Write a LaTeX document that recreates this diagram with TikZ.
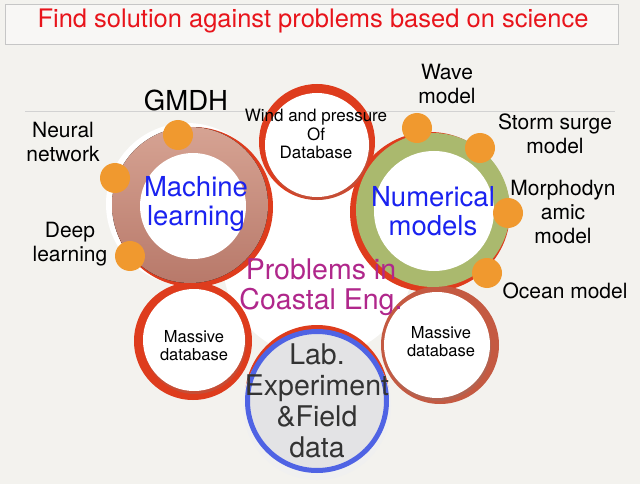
\documentclass[tikz,border=0pt]{standalone}
\usepackage{fontspec}
\setmainfont{TeX Gyre Heros}
\usetikzlibrary{shadows}

\definecolor{paper}{HTML}{F3F2EE}
\definecolor{titlered}{HTML}{E8141B}
\definecolor{ringred}{HTML}{DE3C1D}
\definecolor{ringbrown}{HTML}{C45A42}
\definecolor{mltop}{HTML}{D6A393}
\definecolor{mlbot}{HTML}{B8796A}
\definecolor{numgreen}{HTML}{AAB96E}
\definecolor{dotorange}{HTML}{F0992F}
\definecolor{labblue}{HTML}{4F63E4}
\definecolor{labgray}{HTML}{E3E3E5}
\definecolor{textblue}{HTML}{1A22F0}
\definecolor{probpink}{HTML}{B0278B}

\tikzset{
  lbl/.style={align=center, text=black, font=\fontsize{21}{24}\selectfont},
  small/.style={align=center, text=black, font=\fontsize{16.5}{18}\selectfont},
  big/.style={align=center, text=textblue, font=\fontsize{27.5}{29}\selectfont},
  whitedisk/.style={fill=white, drop shadow={opacity=0.25, shadow xshift=1pt, shadow yshift=-3pt}},
  orange dot/.style={fill=dotorange}
}

\begin{document}
\begin{tikzpicture}[x=1pt,y=-1pt]
			\fill[paper] (0,0) rectangle (640,484);
			\useasboundingbox (0,0) rectangle (640,484);
			%%%%%%%%%%%%%%%%%%%%%%%%%%%%%%%% title
			\draw[gray!45, fill=paper!60!white] (5,4) rectangle (618,44);
			\node[text=titlered, font=\fontsize{25.5}{29}\selectfont] (title) at (313,21) {Find solution against problems based on science};
			\draw[gray!35] (25,111)--(615,111);
			%%%%%%%%%%%%%%%%%%%%%%%%%%%%%%%% centre
			\fill[white] (318,262) circle (95);
			\fill[white] (187,204) circle (81);
			%%%%%%%%%%%%%%%%%%%%%%%%%%%%%%%% red outline
			\fill[ringred] (317,142) circle (58);
			\fill[ringred] (193,207) circle (80);
			\fill[ringred] (430,212) circle (80);
			\fill[ringred] (193,341) circle (59);
			\fill[ringbrown] (440,345) circle (59);
			%%%%%%%%%%%%%%%%%%%%%%%%%%%%%%%% machine learning ring
			\fill[top color=mltop, bottom color=mlbot] (190,205) circle (78);
			\fill[white] (193,206) circle (53);
			%%%%%%%%%%%%%%%%%%%%%%%%%%%%%%%% numerical ring
			\fill[numgreen] (433,210) circle (77);
			\fill[white] (434,211) circle (60);
			%%%%%%%%%%%%%%%%%%%%%%%%%%%%%%%% white circles
			\fill[whitedisk] (317,145) circle (52);
			\fill[whitedisk] (194,340) circle (51);
			\fill[whitedisk] (437,345) circle (53);
			%%%%%%%%%%%%%%%%%%%%%%%%%%%%%%%% lab circle
			\fill[ringred] (317,397) circle (72);
			\fill[gray!12] (317,406) circle (74);
			\draw[labblue, line width=5pt, fill=labgray] (317,401) circle (69.5);
			%%%%%%%%%%%%%%%%%%%%%%%%%%%%%%%% orange dots
			\fill[orange dot] (178,135) circle (15);
			\fill[orange dot] (115,178) circle (15);
			\fill[orange dot] (130,256) circle (15);
			\fill[orange dot] (417,128) circle (15);
			\fill[orange dot] (480,148) circle (15);
			\fill[orange dot] (508,213) circle (15);
			\fill[orange dot] (487,273) circle (15);
			%%%%%%%%%%%%%%%%%%%%%%%%%%%%%%%% texts
			\node[big] (ml) at (196,204) {Machine\\learning};
			\node[big] (num) at (433,211) {Numerical\\models};
			\node[small, font=\fontsize{17}{18.5}\selectfont] (wind) at (316,134) {Wind and pressure\\Of\\Database};
			\node[small] (dbleft) at (194,346) {Massive\\database};
			\node[small] (dbright) at (441,342) {Massive\\database};
			\node[align=center, text=black!80, font=\fontsize{28.5}{31}\selectfont] (lab) at (317,401) {Lab.\\Experiment\\\&Field\\data};
			\node[align=center, text=probpink, font=\fontsize{28.5}{30}\selectfont] (prob) at (321,287) {Problems in\\Coastal Eng.};
			\node[text=black, font=\fontsize{27.5}{29}\selectfont] (gmdh) at (186,100) {GMDH};
			\node[lbl] (wave) at (447,84) {Wave\\model};
			\node[lbl] (neural) at (63,142) {Neural\\network};
			\node[lbl] (deep) at (70,244) {Deep\\learning};
			\node[lbl] (storm) at (555,134) {Storm surge\\model};
			\node[lbl] (morph) at (563,212) {Morphodyn\\amic\\model};
			\node[lbl] (ocean) at (565,291) {Ocean model};
\end{tikzpicture}
\end{document}
